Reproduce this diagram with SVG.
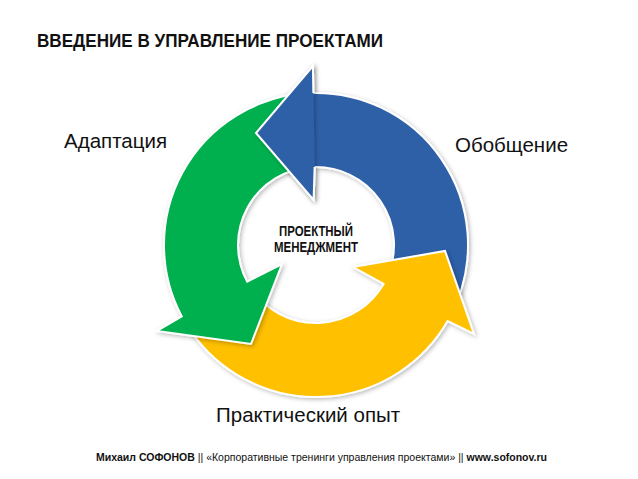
<svg xmlns="http://www.w3.org/2000/svg" width="638" height="479" viewBox="0 0 638 479">
<defs>
<filter id="sh" x="-20%" y="-20%" width="140%" height="140%">
<feDropShadow dx="1.5" dy="1.5" stdDeviation="2" flood-color="#000" flood-opacity="0.28"/>
</filter>
<style>
.arr{stroke:#fff;stroke-width:2;stroke-linejoin:miter;filter:url(#sh)}
.blue{fill:#2E61A8}
.green{fill:#00B050}
.yellow{fill:#FFC000}
.lbl{font-family:"Liberation Sans",Arial,sans-serif;font-size:20.5px;fill:#111}
.ttl{font-family:"Liberation Sans",Arial,sans-serif;font-weight:bold;fill:#111}
.ftr{font-family:"Liberation Sans",Arial,sans-serif;font-size:10.5px;fill:#111}
.b{font-weight:bold}
</style>
</defs>
<rect width="638" height="479" fill="#fff"/>
<text class="ttl" x="37" y="47" font-size="19" textLength="346" lengthAdjust="spacingAndGlyphs">ВВЕДЕНИЕ В УПРАВЛЕНИЕ ПРОЕКТАМИ</text>
<g id="connectors">
<path id="blue-arrow" class="arr blue" d="M 456.93 301.94 A 152 152 0 0 0 313.35 93.02 L 312.9 66 L 256 133 L 313.6 200 L 314.64 167.01 A 78 78 0 0 1 388.32 274.22 Z"/>
<path id="yellow-arrow" class="arr yellow" d="M 191.49 332.18 A 152 152 0 0 0 447.64 321 L 474 334 L 445 251 L 353 267 L 383.55 284 A 78 78 0 0 1 252.11 289.74 Z"/>
<path id="green-arrow" class="arr green" d="M 302.75 93.58 A 152 152 0 0 0 181.79 316.36 L 157 331 L 251 344 L 282 264 L 247.13 281.62 A 78 78 0 0 1 309.2 167.3 Z"/>
<path id="blue-head" class="arr blue" d="M 313.35 93.02 L 312.9 66 L 256 133 L 313.6 200 L 314.64 167.01"/>
</g>
<g id="center">
<text class="ttl" x="316" y="236" font-size="14" text-anchor="middle" textLength="74" lengthAdjust="spacingAndGlyphs">ПРОЕКТНЫЙ</text>
<text class="ttl" x="316" y="252" font-size="14" text-anchor="middle" textLength="84" lengthAdjust="spacingAndGlyphs">МЕНЕДЖМЕНТ</text>
</g>
<g id="adaptation"><text class="lbl" x="64" y="148">Адаптация</text></g>
<g id="generalization"><text class="lbl" x="455" y="152">Обобщение</text></g>
<g id="practice"><text class="lbl" x="216" y="422">Практический опыт</text></g>
<g id="footer">
<text class="ftr" x="321.5" y="461" text-anchor="middle"><tspan class="b">Михаил СОФОНОВ</tspan> || «Корпоративные тренинги управления проектами» || <tspan class="b">www.sofonov.ru</tspan></text>
</g>
</svg>
